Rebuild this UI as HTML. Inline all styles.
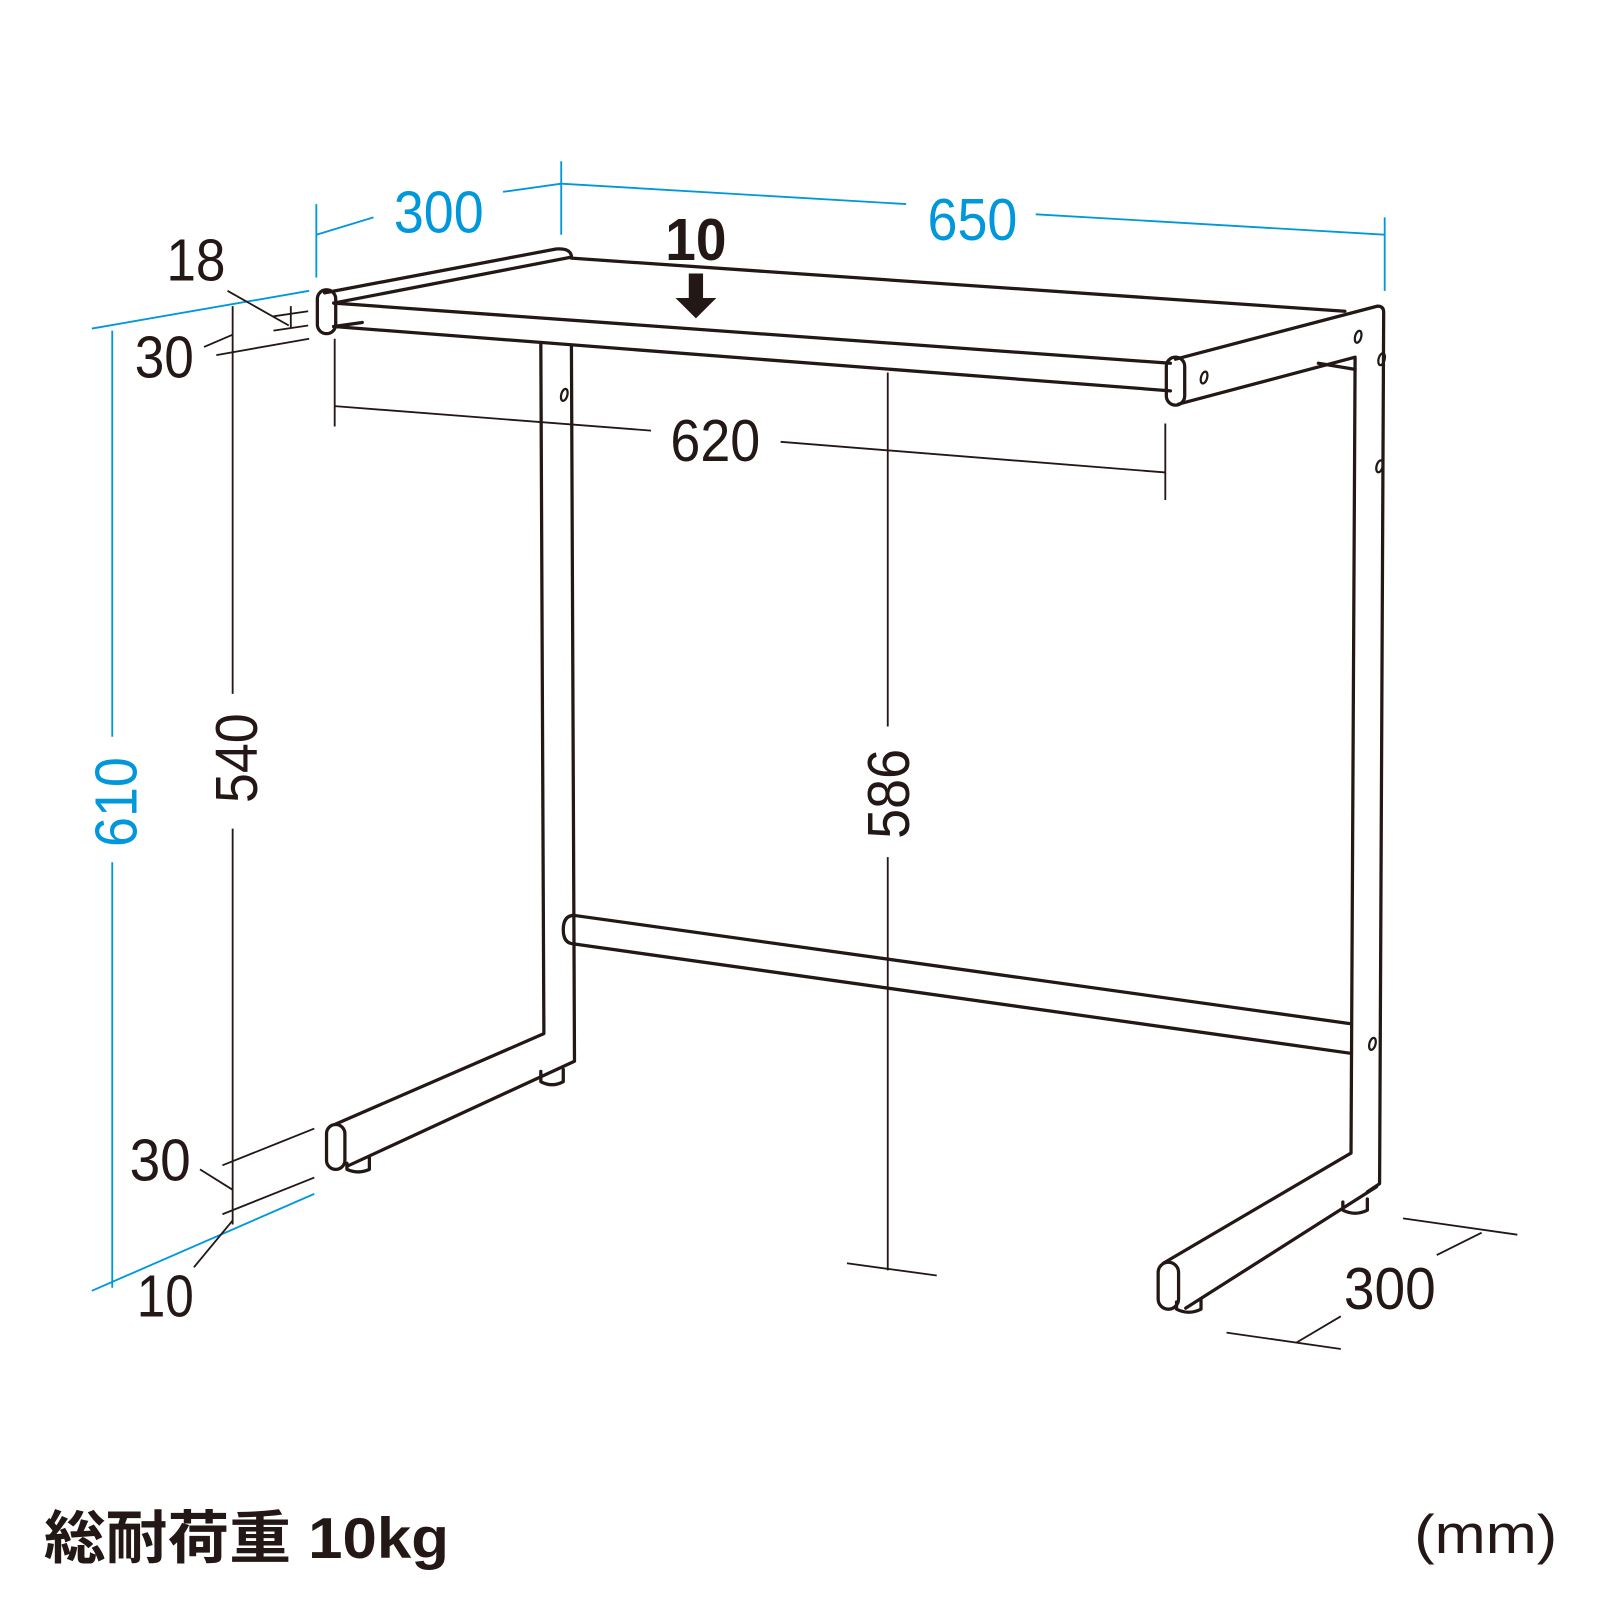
<!DOCTYPE html>
<html><head><meta charset="utf-8"><style>
html,body{margin:0;padding:0;background:#fff;}
svg{display:block;}
text{font-family:"Liberation Sans","Noto Sans CJK JP",sans-serif;}
</style></head><body>
<svg width="1600" height="1600" viewBox="0 0 1568 1568" xmlns="http://www.w3.org/2000/svg">
<g fill="none" stroke="#231815" stroke-width="3.2" stroke-linejoin="round" stroke-linecap="round">
<!-- shelf left rail -->
<path d="M318,287 L545,244 Q560,243 560,252 L327,297"/>
<path d="M327,320 L355,316"/>
<!-- top back line -->
<path d="M560,253 L1318,305"/>
<!-- front top / bottom edges -->
<path d="M327,297 L1147,356"/>
<path d="M327,320 L1147,383"/>
<!-- left end cap -->
<rect x="311" y="284" width="18" height="43" rx="9"/>
<!-- right end cap -->
<rect x="1143" y="350" width="18" height="47" rx="9"/>
<!-- right side rail -->
<path d="M1152,352 L1350,300 Q1356,300 1356,306 L1352,1160 L1340,1168"/>
<path d="M1155,396 L1328,350 L1324,1130 L1140,1238"/>
<path d="M1328,362 L1292,356"/>
<path d="M1349,1163 L1162,1282"/>
<rect x="1135" y="1237" width="20" height="46" rx="10"/>
<!-- right pads -->
<path d="M1316,1178 L1316,1186 Q1328,1192 1340,1186 L1340,1175"/>
<path d="M1153,1276 L1153,1283 Q1165,1289 1177,1283 L1177,1273"/>
<!-- left back leg -->
<path d="M530,336 L533,1013 L328,1102"/>
<path d="M560,340 L563,1040 L340,1143"/>
<rect x="320" y="1102" width="18" height="44" rx="9"/>
<path d="M530,1050 L530,1060 Q541,1066 552,1060 L552,1048"/>
<path d="M340,1140 L340,1146 Q351,1151 362,1146 L362,1134"/>
<!-- middle rail -->
<path d="M562,897 L1322,1003"/>
<path d="M562,925 L1322,1032"/>
<path d="M563,897 Q552,897 552,911 Q552,925 563,925"/>
</g>
<!-- holes -->
<g fill="none" stroke="#231815" stroke-width="2.2">
<ellipse cx="553" cy="387" rx="3" ry="6" transform="rotate(15 553 387)"/>
<ellipse cx="1180" cy="370" rx="3" ry="6" transform="rotate(15 1180 370)"/>
<ellipse cx="1331" cy="330" rx="3" ry="6" transform="rotate(15 1331 330)"/>
<ellipse cx="1354" cy="352" rx="3" ry="6" transform="rotate(15 1354 352)"/>
<ellipse cx="1352" cy="457" rx="3" ry="6" transform="rotate(15 1352 457)"/>
<ellipse cx="1345" cy="1023" rx="3" ry="6" transform="rotate(15 1345 1023)"/>
</g>
<!-- blue dimension lines -->
<g stroke="#0097db" stroke-width="1.8" fill="none">
<path d="M310,200 L310,272"/>
<path d="M310,230 L366,213"/>
<path d="M493,188 L550,180"/>
<path d="M550,158 L550,230"/>
<path d="M550,180 L888,200"/>
<path d="M1015,210 L1357,230"/>
<path d="M1357,213 L1357,285"/>
<path d="M90,322 L303,285"/>
<path d="M110,324 L110,722"/>
<path d="M110,845 L110,1262"/>
<path d="M90,1265 L308,1170"/>
</g>
<!-- black dimension lines -->
<g stroke="#231815" stroke-width="1.8" fill="none">
<path d="M228,300 L228,680"/>
<path d="M228,812 L228,1200"/>
<path d="M870,365 L870,712"/>
<path d="M870,840 L870,1245"/>
<path d="M830,1238 L918,1250"/>
<path d="M328,398 L638,422"/>
<path d="M765,433 L1142,463"/>
<path d="M328,332 L328,418"/>
<path d="M1142,415 L1142,490"/>
<path d="M268,310 L302,305"/>
<path d="M268,324 L302,319"/>
<path d="M285,300 L285,322"/>
<path d="M223,285 L283,319"/>
<path d="M200,340 L228,328"/>
<path d="M212,348 L303,332"/>
<path d="M218,1142 L308,1106"/>
<path d="M218,1190 L308,1154"/>
<path d="M196,1146 L228,1166"/>
<path d="M190,1242 L228,1196"/>
<path d="M1375,1194 L1487,1210"/>
<path d="M1202,1306 L1314,1322"/>
<path d="M1408,1230 L1452,1208"/>
<path d="M1270,1316 L1314,1290"/>
</g>
<!-- arrow -->
<path d="M675,268 L689,268 L689,292 L702,292 L682,312 L662,292 L675,292 Z" fill="#231815"/>
<!-- texts -->
<g font-size="58" fill="#0097db">
<text x="386" y="228" textLength="88" lengthAdjust="spacingAndGlyphs">300</text>
<text x="909" y="235" textLength="88" lengthAdjust="spacingAndGlyphs">650</text>
<text transform="translate(134,830) rotate(-90)" textLength="88" lengthAdjust="spacingAndGlyphs">610</text>
</g>
<g font-size="58" fill="#231815">
<text x="652" y="255" font-weight="bold" textLength="60" lengthAdjust="spacingAndGlyphs">10</text>
<text x="163" y="275" textLength="58" lengthAdjust="spacingAndGlyphs">18</text>
<text x="132" y="370" textLength="58" lengthAdjust="spacingAndGlyphs">30</text>
<text x="657" y="452" textLength="88" lengthAdjust="spacingAndGlyphs">620</text>
<text transform="translate(252,787) rotate(-90)" textLength="88" lengthAdjust="spacingAndGlyphs">540</text>
<text transform="translate(891,822) rotate(-90)" textLength="88" lengthAdjust="spacingAndGlyphs">586</text>
<text x="127" y="1157" textLength="60" lengthAdjust="spacingAndGlyphs">30</text>
<text x="134" y="1290" textLength="56" lengthAdjust="spacingAndGlyphs">10</text>
<text x="1317" y="1283" textLength="90" lengthAdjust="spacingAndGlyphs">300</text>
<text x="43" y="1527" font-size="56" font-weight="bold" textLength="397" lengthAdjust="spacingAndGlyphs">総耐荷重 10kg</text>
<text x="1386" y="1522" font-size="54" textLength="140" lengthAdjust="spacingAndGlyphs">(mm)</text>
</g>
</svg>
</body></html>
